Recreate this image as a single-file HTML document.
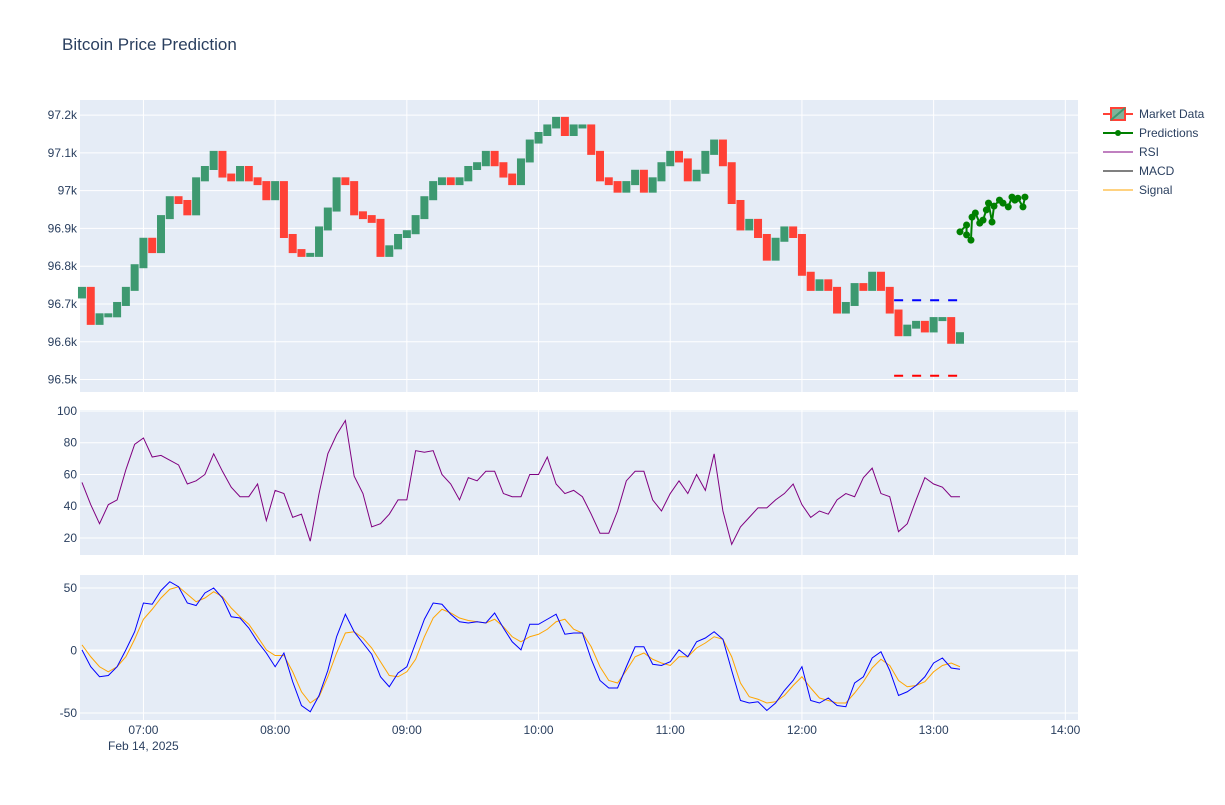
<!DOCTYPE html>
<html><head><meta charset="utf-8"><style>
body{margin:0;background:#fff;font-family:"Liberation Sans",sans-serif;}
svg text{font-family:"Liberation Sans",sans-serif;fill:#2a3f5f;}
</style></head><body>
<svg id="c" width="1225" height="800" xmlns="http://www.w3.org/2000/svg">
<text x="62" y="50" font-size="17">Bitcoin Price Prediction</text>
</svg>
<script>
// data (index i => time 06:32 + 4*i minutes)
const closes=[96740,96650,96670,96670,96700,96740,96800,96870,96840,96930,96980,96970,96940,97030,97060,97100,97040,97030,97060,97030,97020,96980,97020,96880,96840,96830,96830,96900,96950,97030,97020,96940,96930,96920,96830,96850,96880,96890,96930,96980,97020,97030,97020,97030,97060,97070,97100,97070,97040,97020,97080,97130,97150,97170,97190,97150,97170,97170,97100,97030,97020,97000,97020,97050,97000,97030,97070,97100,97080,97030,97050,97100,97130,97070,96970,96900,96920,96880,96820,96870,96900,96880,96780,96740,96760,96740,96680,96700,96750,96740,96780,96740,96680,96620,96640,96650,96630,96660,96660,96600,96620];
const rsi=[55,41,29,41,44,63,79,83,71,72,69,66,54,56,60,73,62,52,46,46,54,31,50,48,33,35,18,48,73,85,94,59,48,27,29,35,44,44,75,74,75,60,54,44,58,56,62,62,48,46,46,60,60,71,54,48,50,46,35,23,23,37,56,62,62,44,37,48,56,48,60,50,73,37,16,27,33,39,39,44,48,54,41,33,37,35,44,48,46,58,64,48,46,24,29,44,58,54,52,46,46];
const macd=[0.5,-13,-21,-20,-13,0.5,15,38,37,48,55,51,38,36,46,50,42,27,26,18,7,-2,-13,-2,-25,-44,-49,-36,-16,11,29,15,6,-3,-21,-29,-18,-13,6,25,38,37,29,23,22,23,22,30,18,7,0.5,21,21,25,29,13,14,14,-7,-24,-30,-30,-13,3,3,-11,-12,-9,0.5,-5,7,10,15,9,-16,-40,-42,-41,-48,-42,-32,-24,-13,-40,-42,-38,-44,-45,-26,-21,-6,-1,-16,-36,-33,-28,-21,-10,-6,-14,-15];
const signal=[4.5,-5,-13,-17,-13,-5,9,25,33,42,49,51,45,39,42,47,43,34,27,21,11,0.5,-4,-4,-17,-33,-42,-37,-21,-2,14,15,10,2,-9,-20,-21,-17,-7,11,26,33,30,26,24,23,22,25,19,11,7,11,13,17,23,25,17,14,3,-13,-24,-26,-16,-5,-2,-7,-10,-12,-5,-5,2,6,11,9,-5,-26,-37,-39,-42,-41,-36,-28,-21,-30,-38,-40,-42,-42,-34,-25,-14,-7,-12,-24,-29,-28,-25,-17,-12,-10,-13];
const predMin=[400,403,403,405,405.5,407,409,410.5,412,413,414.6,415.5,418,419.6,422,423.7,425,426.4,428.7,429.6];
const predVal=[96891,96909,96883,96869,96930,96941,96914,96922,96949,96967,96917,96959,96975,96967,96957,96983,96975,96980,96957,96983];
const supportVal=96510, resistVal=96710, levelStart=370, levelEnd=400;
const xTicks=["07:00","08:00","09:00","10:00","11:00","12:00","13:00","14:00"];
const xTickMin=[28,88,148,208,268,328,388,448];
const priceTicks=[96500,96600,96700,96800,96900,97000,97100,97200];
const priceLabels=["96.5k","96.6k","96.7k","96.8k","96.9k","97k","97.1k","97.2k"];
const rsiTicks=[20,40,60,80,100];
const macdTicks=[-50,0,50];

const svg=document.getElementById('c');const NS='http://www.w3.org/2000/svg';
function el(t,a,p){const e=document.createElementNS(NS,t);for(const k in a)e.setAttribute(k,a[k]);(p||svg).appendChild(e);return e;}
const X0=80,X1=1078;
const xs=m=>X0+(m+0.9)*2.195;
const panels=[{y0:100,y1:392,lo:96467,hi:97240},{y0:410,y1:555,lo:9.3,hi:100.6},{y0:575,y1:720,lo:-55.6,hi:60.4}];
const ys=(p,v)=>p.y1-(v-p.lo)/(p.hi-p.lo)*(p.y1-p.y0);
const names=['price-panel','rsi-panel','macd-panel'];
const tks=[priceTicks,rsiTicks,macdTicks];
panels.forEach((p,pi)=>{
  const bg=el('rect',{x:X0,y:p.y0,width:X1-X0,height:p.y1-p.y0,fill:'#e5ecf6'});
  
  
  xTickMin.forEach(m=>{const l=el('line',{x1:xs(m),x2:xs(m),y1:p.y0,y2:p.y1,stroke:'#fff','stroke-width':1});
    
    });
  tks[pi].forEach((v,j)=>{const y=ys(p,v);
    const l=el('line',{x1:X0,x2:X1,y1:y,y2:y,stroke:'#fff','stroke-width':(pi==2&&v==0)?2:1});
    
    
    const t=el('text',{x:77,y:y+4,'font-size':12,'text-anchor':'end'});
    t.textContent=pi==0?priceLabels[j]:String(v);
    
    });
});
xTicks.forEach((s,j)=>{const t=el('text',{x:xs(xTickMin[j]),y:734,'font-size':12,'text-anchor':'middle'});t.textContent=s;
  
  });
const d=el('text',{x:108,y:750,'font-size':12});d.textContent='Feb 14, 2025';


// candles
const P=panels[0];
closes.forEach((c,i)=>{const o=i?closes[i-1]:c-20;const up=c>=o;
  const yA=ys(P,Math.max(o,c)),yB=ys(P,Math.min(o,c));
  const r=el('rect',{x:xs(i*4)-4,y:yA-2,width:8,height:Math.max(4,yB-yA+4),fill:up?'#3D9970':'#FF4136'});
  
  });
// levels
[[resistVal,'#0000ff','resistance-line'],[supportVal,'#ff0000','support-line']].forEach(a=>{const y=ys(P,a[0]);
  const l=el('line',{x1:xs(levelStart),x2:xs(levelEnd),y1:y,y2:y,stroke:a[1],'stroke-width':2,'stroke-dasharray':'9,9'});
  
  });
// predictions
const pl=el('polyline',{points:predMin.map((m,i)=>xs(m)+','+ys(P,predVal[i])).join(' '),fill:'none',stroke:'#008000','stroke-width':2});


predMin.forEach((m,i)=>{const c=el('circle',{cx:xs(m),cy:ys(P,predVal[i]),r:3.5,fill:'#008000'});
  
  });
function line(arr,p,col,name){const e=el('polyline',{points:arr.map((v,i)=>xs(i*4)+','+ys(p,v)).join(' '),fill:'none',stroke:col,'stroke-width':1});
  
  }
line(rsi,panels[1],'#800080','rsi-line');
line(signal,panels[2],'#ffa500','signal-line');
line(macd,panels[2],'#0000ff','macd-line');
// legend
const leg=[['Market Data','cand'],['Predictions','#008000'],['RSI','#800080'],['MACD','#000'],['Signal','#ffa500']];
leg.forEach((l,i)=>{const y=114+i*19;const g=el('g',{});
  
  
  if(l[1]=='cand'){el('line',{x1:1103,x2:1133,y1:y,y2:y,stroke:'#FF4136','stroke-width':2},g);
    el('rect',{x:1111,y:y-6,width:14,height:12,fill:'#7fb49a',stroke:'#FF4136','stroke-width':2},g);
    el('line',{x1:1111,x2:1125,y1:y+6,y2:y-6,stroke:'#3D9970','stroke-width':2},g);}
  else{el('line',{x1:1103,x2:1133,y1:y,y2:y,stroke:l[1],'stroke-width':i==1?2:1},g);
    if(i==1)el('circle',{cx:1118,cy:y,r:3,fill:'#008000'},g);}
  const t=el('text',{x:1139,y:y+4,'font-size':12},g);t.textContent=l[0];});
</script>
</body></html>
